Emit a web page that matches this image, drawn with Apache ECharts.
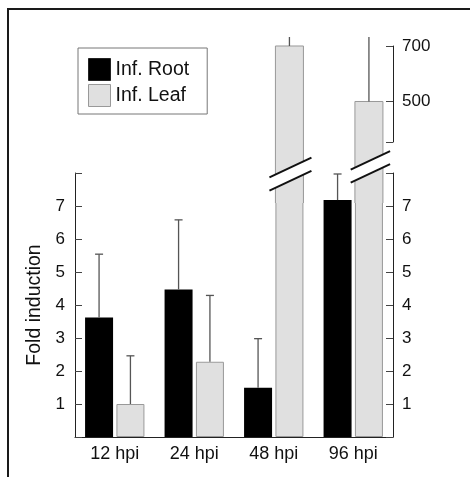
<!DOCTYPE html>
<html>
<head>
<meta charset="utf-8">
<script src="https://cdn.jsdelivr.net/npm/echarts@6/dist/echarts.min.js"></script>
<style>html,body{margin:0;padding:0;background:#fff}#c{width:470px;height:477px}</style>
</head>
<body>
<div id="c"></div>
<script>
const categories = ['12 hpi', '24 hpi', '48 hpi', '96 hpi'];
const rootMean = [3.62, 4.47, 1.49, 7.18];
const rootErrTop = [5.54, 6.58, 2.98, 7.97];
const leafMean = [1.0, 2.28, 700, 500];
const leafErrTop = [2.46, 4.29, 760, 760];
const lowerTickLabels = [1, 2, 3, 4, 5, 6, 7];
const lowerTicks = [0, 1, 2, 3, 4, 5, 6, 7, 8];
const upperTickLabels = [500, 700];
const upperTicks = [354, 500, 700];

const FONT = 'Liberation Sans, Arial, sans-serif';
const BAR_W = 28, GAP = 3.36;
const OFF = (BAR_W + GAP) / 2;
const INK = '#111';

const chart = echarts.init(document.getElementById('c'), null, {renderer: 'canvas'});

function errRender(offset) {
  return function (params, api) {
    const i = api.value(0);
    const p0 = api.coord([i, api.value(1)]);
    const p1 = api.coord([i, api.value(2)]);
    const x = p0[0] + offset;
    const st = {stroke: '#555', lineWidth: 1.3};
    return {type: 'group', children: [
      {type: 'line', shape: {x1: x, y1: p0[1], x2: x, y2: p1[1]}, style: st},
      {type: 'line', shape: {x1: x - 4, y1: p1[1], x2: x + 4, y2: p1[1]}, style: st}
    ]};
  };
}

function upperBarRender(params, api) {
  const i = api.value(0), v = api.value(1);
  const p = api.coord([i, v]);
  const cs = params.coordSys;
  const gridBottom = cs.y + cs.height;
  if (p[1] >= gridBottom) return null;
  const bottom = gridBottom + 30;
  const x0 = p[0] + GAP / 2, x1 = x0 + BAR_W;
  return {type: 'group', children: [
    {type: 'rect', shape: {x: x0, y: p[1], width: BAR_W, height: bottom - p[1]}, style: {fill: '#e0e0e0'}},
    {type: 'polyline', shape: {points: [[x0, bottom], [x0, p[1]], [x1, p[1]], [x1, bottom]]}, style: {stroke: '#999', lineWidth: 1, fill: null}}
  ]};
}

const axisLineStyle = {color: '#222', width: 1};
const tickStyle = {color: '#444', width: 1};

const option = {
  backgroundColor: '#fff',
  animation: false,
  textStyle: {fontFamily: FONT},
  legend: {
    left: 78, top: 48, orient: 'vertical',
    itemWidth: 22, itemHeight: 22, itemGap: 3,
    padding: [10, 18, 7, 10],
    borderColor: '#777', borderWidth: 1,
    textStyle: {fontSize: 19.5, color: INK, fontFamily: FONT},
    data: [
      {name: 'Inf. Root', icon: 'rect', itemStyle: {color: '#000', borderColor: '#222', borderWidth: 1}},
      {name: 'Inf. Leaf', icon: 'rect', itemStyle: {color: '#e0e0e0', borderColor: '#999', borderWidth: 1}}
    ]
  },
  grid: [
    {left: 75, right: 77, top: 173, bottom: 40},
    {left: 75, right: 77, top: 37, height: 136},
    {left: 75, right: 77, top: 46, height: 96}
  ],
  xAxis: [
    {
      gridIndex: 0, type: 'category', data: categories,
      axisLine: {lineStyle: axisLineStyle},
      axisTick: {inside: true, length: 6, interval: 0, lineStyle: tickStyle},
      axisLabel: {fontSize: 18, color: INK, margin: 8, fontFamily: FONT}
    },
    {gridIndex: 1, type: 'category', data: categories, show: false},
    {gridIndex: 2, type: 'category', data: categories, show: false}
  ],
  yAxis: [
    {
      gridIndex: 0, type: 'value', position: 'left', min: 0, max: 8, interval: 1,
      name: 'Fold induction', nameLocation: 'middle', nameGap: 30,
      nameTextStyle: {fontSize: 19.5, color: INK, fontFamily: FONT},
      axisLine: {show: true, lineStyle: axisLineStyle},
      axisTick: {show: true, inside: true, length: 7, lineStyle: tickStyle, customValues: lowerTicks},
      axisLabel: {fontSize: 17, color: INK, margin: 10, customValues: lowerTickLabels, fontFamily: FONT},
      splitLine: {show: false}
    },
    {
      gridIndex: 0, type: 'value', position: 'right', min: 0, max: 8, interval: 1,
      axisLine: {show: true, lineStyle: axisLineStyle},
      axisTick: {show: true, inside: true, length: 7, lineStyle: tickStyle, customValues: lowerTicks},
      axisLabel: {fontSize: 17, color: INK, margin: 9, customValues: lowerTickLabels, fontFamily: FONT},
      splitLine: {show: false}
    },
    {gridIndex: 1, type: 'value', min: 242.3, max: 732.4, show: false, splitLine: {show: false}},
    {
      gridIndex: 2, type: 'value', position: 'right', min: 354, max: 700,
      axisLine: {show: true, lineStyle: axisLineStyle},
      axisTick: {show: true, inside: true, length: 7, lineStyle: tickStyle, customValues: upperTicks},
      axisLabel: {fontSize: 17, color: INK, margin: 9, customValues: upperTickLabels, fontFamily: FONT},
      splitLine: {show: false}
    }
  ],
  series: [
    {
      name: 'Inf. Root', type: 'bar', xAxisIndex: 0, yAxisIndex: 0,
      data: rootMean, barWidth: BAR_W, barGap: '12%', clip: true, z: 2,
      itemStyle: {color: '#000', borderColor: '#222', borderWidth: 0}
    },
    {
      name: 'Inf. Leaf', type: 'bar', xAxisIndex: 0, yAxisIndex: 0,
      data: leafMean, barWidth: BAR_W, barGap: '12%', clip: true, z: 2,
      itemStyle: {color: '#e0e0e0', borderColor: '#999', borderWidth: 1}
    },
    {
      name: 'leafUpper', type: 'custom', xAxisIndex: 1, yAxisIndex: 2, clip: false, z: 3,
      renderItem: upperBarRender,
      encode: {x: 0, y: 1},
      data: leafMean.map((v, i) => [i, v])
    },
    {
      name: 'rootErr', type: 'custom', xAxisIndex: 0, yAxisIndex: 0, clip: true, z: 5,
      renderItem: errRender(-OFF), encode: {x: 0, y: [1, 2]},
      data: rootMean.map((v, i) => [i, v, rootErrTop[i]])
    },
    {
      name: 'leafErr', type: 'custom', xAxisIndex: 0, yAxisIndex: 0, clip: true, z: 5,
      renderItem: errRender(OFF), encode: {x: 0, y: [1, 2]},
      data: leafMean.map((v, i) => [i, v, leafErrTop[i]])
    },
    {
      name: 'leafErrUpper', type: 'custom', xAxisIndex: 1, yAxisIndex: 2, clip: true, z: 5,
      renderItem: errRender(OFF), encode: {x: 0, y: [1, 2]},
      data: leafMean.map((v, i) => [i, v, leafErrTop[i]])
    }
  ]
};

chart.setOption(option);

// broken-axis marks (decoration), placed relative to the leaf bars
function breakMark(catIdx, dxMid, half, yOff1, yOff2) {
  const p = chart.convertToPixel({xAxisIndex: 0, yAxisIndex: 0}, [catIdx, 8]);
  const xm = p[0] + OFF + dxMid, top = p[1];
  const slope = -0.47;
  const xa = xm - half, xb = xm + half;
  const y1m = top + yOff1, y2m = top + yOff2;
  const y = (ym, x) => ym + slope * (x - xm);
  return [
    {type: 'polygon', z: 100, shape: {points: [[xa, y(y1m, xa)], [xb, y(y1m, xb)], [xb, y(y2m, xb)], [xa, y(y2m, xa)]]}, style: {fill: '#fff'}},
    {type: 'line', z: 101, shape: {x1: xa, y1: y(y1m, xa), x2: xb, y2: y(y1m, xb)}, style: {stroke: '#111', lineWidth: 2}},
    {type: 'line', z: 101, shape: {x1: xa, y1: y(y2m, xa), x2: xb, y2: y(y2m, xb)}, style: {stroke: '#111', lineWidth: 2}}
  ];
}

chart.setOption({
  graphic: [
    {type: 'rect', z: 0, shape: {x: 8, y: 9, width: 600, height: 600}, style: {fill: null, stroke: '#1a1a1a', lineWidth: 2}},
    ...breakMark(2, 1, 21, -5.5, 7.7),
    ...breakMark(3, 1.45, 19.7, -12.7, 0.3)
  ]
});
</script>
</body>
</html>
